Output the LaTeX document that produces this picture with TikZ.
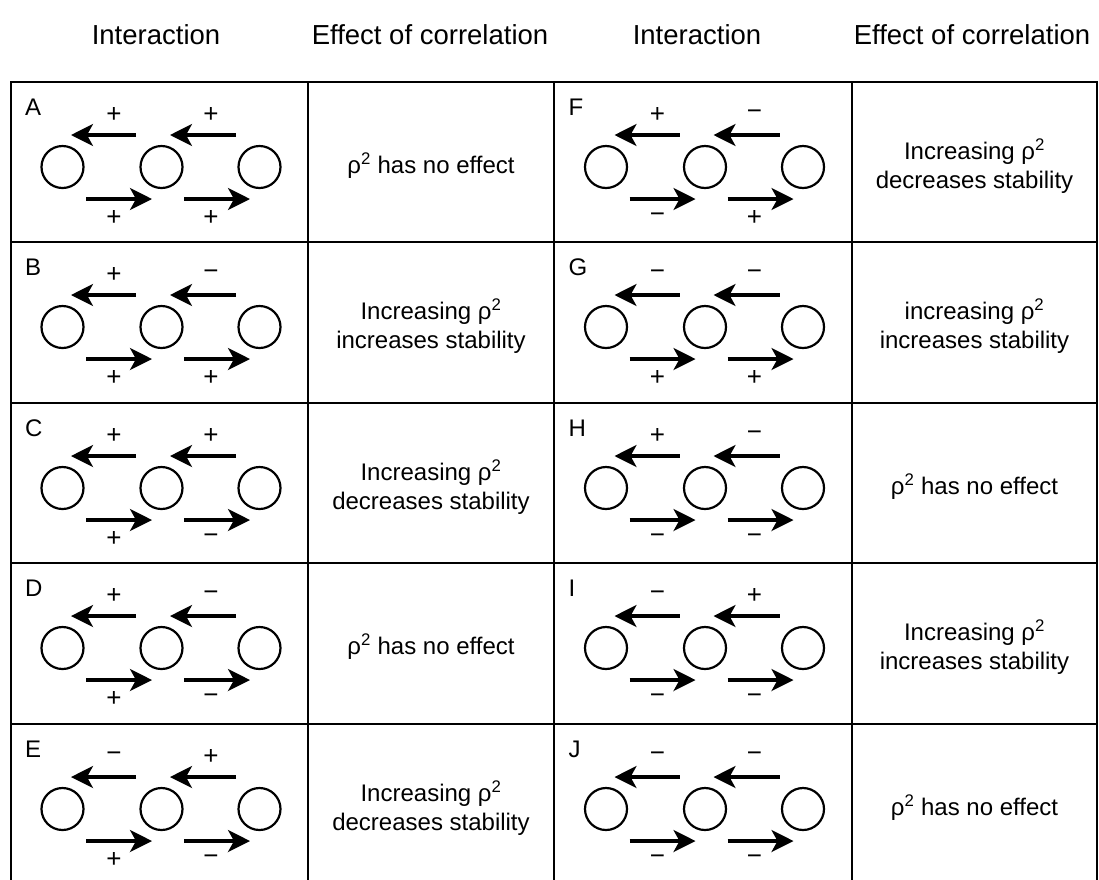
\documentclass[tikz,border=0pt]{standalone}
\usepackage{fontspec}
\setmainfont{Liberation Sans}
\usetikzlibrary{arrows.meta}
\tikzset{
  grid/.style={line width=2.8pt, line cap=rect},
  blob/.style={circle, draw, line width=2.2pt, minimum size=42pt, inner sep=0pt},
  arr/.style={line width=3.2pt, -{Stealth[length=22pt,width=22pt,inset=6pt]}},
  sgn/.style={font=\fontsize{26}{26}\selectfont, inner sep=0pt},
  lbl/.style={font=\fontsize{24}{24}\selectfont, inner sep=0pt, anchor=base west},
  txt/.style={font=\fontsize{24}{29}\selectfont, align=center, inner sep=0pt},
  hdr/.style={font=\fontsize{27.5}{30}\selectfont, inner sep=0pt, anchor=base},
}
\newcommand{\mns}{\char"2212}
\newcommand{\rhosq}{ρ\textsuperscript{2}}
% #1 name, #2 cx, #3 top, #4 u1, #5 u2, #6 l1, #7 l2, #8 text x, #9 text
\newcommand{\cellrow}[9]{%
  \node[lbl] (#1-lab) at (#2-134.5, #3+33) {#1};
  \node[blob] (#1-c1) at (#2-97, #3+85) {};
  \node[blob] (#1-c2) at (#2+2, #3+85) {};
  \node[blob] (#1-c3) at (#2+100, #3+85) {};
  \coordinate (#1-a1s) at (#2-23.5, #3+53);
  \coordinate (#1-a1e) at (#2-88.5, #3+53);
  \coordinate (#1-a2s) at (#2+76.5, #3+53);
  \coordinate (#1-a2e) at (#2+10.5, #3+53);
  \coordinate (#1-b1s) at (#2-73.5, #3+117);
  \coordinate (#1-b1e) at (#2-7.5, #3+117);
  \coordinate (#1-b2s) at (#2+24.5, #3+117);
  \coordinate (#1-b2e) at (#2+90.5, #3+117);
  \draw[arr] (#1-a1s) -- (#1-a1e);
  \draw[arr] (#1-a2s) -- (#1-a2e);
  \draw[arr] (#1-b1s) -- (#1-b1e);
  \draw[arr] (#1-b2s) -- (#1-b2e);
  \node[sgn] (#1-s1) at (#2-45.5, #3+33) {#4};
  \node[sgn] (#1-s2) at (#2+51.5, #3+33) {#5};
  \node[sgn] (#1-s3) at (#2-45.5, #3+136) {#6};
  \node[sgn] (#1-s4) at (#2+51.5, #3+136) {#7};
  \node[txt] (#1-txt) at (#8, #3+84) {#9};
}
\begin{document}
\begin{tikzpicture}[x=1pt, y=-1pt]
\useasboundingbox (0,0) rectangle (1099,879);
% headers
\node[hdr] (h1) at (156, 44) {Interaction};
\node[hdr] (h2) at (430, 44) {Effect of correlation};
\node[hdr] (h3) at (697, 44) {Interaction};
\node[hdr] (h4) at (972, 44) {Effect of correlation};
% table grid
\foreach \x in {11,308,554,852,1097} \draw[grid] (\x,82) -- (\x,884);
\foreach \y in {82,242,403,563,724,884} \draw[grid] (11,\y) -- (1097,\y);
% left half
\cellrow{A}{159.5}{82}{+}{+}{+}{+}{431}{\rhosq{} has no effect}
\cellrow{B}{159.5}{242}{+}{\mns}{+}{+}{431}{Increasing \rhosq\\increases stability}
\cellrow{C}{159.5}{403}{+}{+}{+}{\mns}{431}{Increasing \rhosq\\decreases stability}
\cellrow{D}{159.5}{563}{+}{\mns}{+}{\mns}{431}{\rhosq{} has no effect}
\cellrow{E}{159.5}{724}{\mns}{+}{+}{\mns}{431}{Increasing \rhosq\\decreases stability}
% right half
\cellrow{F}{703}{82}{+}{\mns}{\mns}{+}{974.5}{Increasing \rhosq\\decreases stability}
\cellrow{G}{703}{242}{\mns}{\mns}{+}{+}{974.5}{increasing \rhosq\\increases stability}
\cellrow{H}{703}{403}{+}{\mns}{\mns}{\mns}{974.5}{\rhosq{} has no effect}
\cellrow{I}{703}{563}{\mns}{+}{\mns}{\mns}{974.5}{Increasing \rhosq\\increases stability}
\cellrow{J}{703}{724}{\mns}{\mns}{\mns}{\mns}{974.5}{\rhosq{} has no effect}
\end{tikzpicture}
\end{document}
